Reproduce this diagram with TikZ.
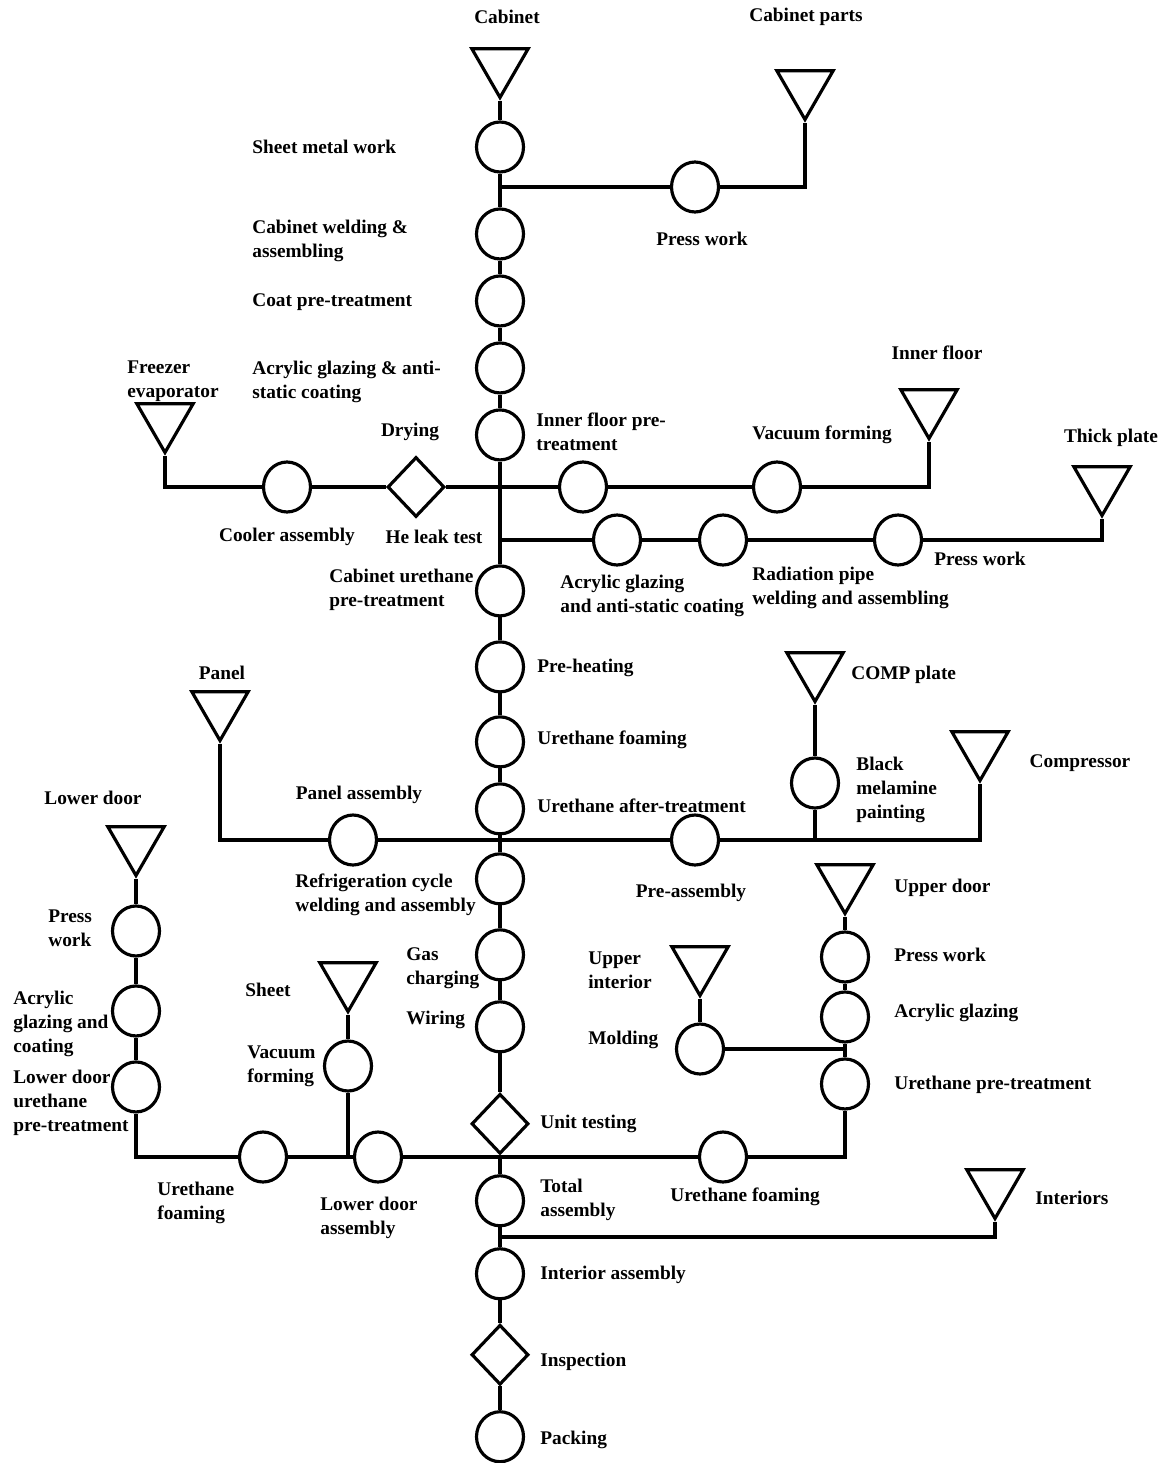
\documentclass[tikz,border=0pt]{standalone}
\usepackage{fontspec}
\setmainfont{Liberation Serif}
\usepackage{tikz}
\usetikzlibrary{positioning, shapes.geometric}
\tikzstyle{operation} = [ellipse, minimum width=0.94cm, minimum height=1cm, inner sep=0pt, draw=black, line width=1.8pt]
\tikzstyle{storage} = [regular polygon, regular polygon sides=3, shape border rotate=180, minimum size=1.3cm, inner sep=0pt, draw=black, line width=1.8pt]
\tikzstyle{check} = [diamond, minimum width=1.14cm, minimum height=1.2cm, inner sep=0pt, draw=black, line width=1.8pt]
\tikzstyle{flow} = [line width=1.8pt]
\tikzstyle{note} = [font=\fontsize{11}{13.7}\selectfont\bfseries, align=left, inner sep=0pt]

\begin{document}
\begin{tikzpicture}[x=0.02cm, y=-0.02cm, node distance=1.34cm]
        \useasboundingbox (0,0) rectangle (1166,1463);

        % main line
        \node (cabinet) [storage] at (500,65) {};
        \node (sheetmetal) [operation, below of=cabinet, yshift=-0.3cm] {};
        \node (welding) [operation, below of=sheetmetal, yshift=-0.4cm] {};
        \node (coatpre) [operation, below of=welding] {};
        \node (glazing) [operation, below of=coatpre] {};
        \node (floorpre) [operation, below of=glazing] {};
        \node (urethanepre) [operation, below of=floorpre, yshift=-1.78cm] {};
        \node (preheat) [operation, below of=urethanepre, yshift=-0.18cm] {};
        \node (foaming) [operation, below of=preheat, yshift=-0.16cm] {};
        \node (after) [operation, below of=foaming] {};
        \node (refcycle) [operation, below of=after, yshift=-0.06cm] {};
        \node (gas) [operation, below of=refcycle, yshift=-0.18cm] {};
        \node (wiring) [operation, below of=gas, yshift=-0.1cm] {};
        \node (unittest) [check, below of=wiring, yshift=-0.6cm] {};
        \node (total) [operation, below of=unittest, yshift=-0.2cm] {};
        \node (interior) [operation, below of=total, yshift=-0.12cm] {};
        \node (inspection) [check, below of=interior, yshift=-0.28cm] {};
        \node (packing) [operation, below of=inspection, yshift=-0.3cm] {};

        \coordinate (jparts) at (500,187);
        \coordinate (jfloor) at (500,487);
        \coordinate (jplate) at (500,540);
        \coordinate (jpanel) at (500,840);
        \coordinate (jdoor) at (500,1157);
        \coordinate (jinter) at (500,1237);

        % cabinet parts
        \node (cabparts) [storage] at (805,87) {};
        \node (press1) [operation] at (695,187) {};

        % freezer side
        \node (freezer) [storage] at (165,420) {};
        \node (cooler) [operation] at (287,487) {};
        \node (leak) [check] at (416,487) {};

        % inner floor and thick plate
        \node (floorform) [operation] at (583,487) {};
        \node (vacform) [operation] at (777,487) {};
        \node (innerfloor) [storage] at (929,406) {};
        \node (glazing2) [operation] at (617,540) {};
        \node (radpipe) [operation] at (723,540) {};
        \node (press3) [operation] at (898,540) {};
        \node (thickplate) [storage] at (1102,483) {};

        % panel and compressor
        \node (panel) [storage] at (220,708) {};
        \node (panelasm) [operation] at (353,840) {};
        \node (preasm) [operation] at (695,840) {};
        \coordinate (jcomp) at (815,840);
        \node (compplate) [storage] at (815,669) {};
        \node (melamine) [operation] at (815,783) {};
        \node (compressor) [storage] at (980,748) {};

        % lower door
        \node (lowerdoor) [storage] at (136,843) {};
        \node (press2) [operation, below of=lowerdoor, yshift=-0.42cm] {};
        \node (acryl3) [operation, below of=press2, yshift=-0.26cm] {};
        \node (ldpre) [operation, below of=acryl3, yshift=-0.18cm] {};
        \node (ufoam2) [operation] at (263,1157) {};
        \node (ldasm) [operation] at (378,1157) {};
        \node (sheet) [storage] at (348,979) {};
        \node (vacform2) [operation] at (348,1066) {};
        \coordinate (jsheet) at (348,1157);

        % upper door
        \node (upperdoor) [storage] at (845,881) {};
        \node (press4) [operation, below of=upperdoor, yshift=-0.18cm] {};
        \node (acryl4) [operation, below of=press4, yshift=0.14cm] {};
        \node (urepre2) [operation, below of=acryl4] {};
        \node (ufoam3) [operation] at (723,1157) {};
        \node (upperint) [storage] at (700,963) {};
        \node (molding) [operation] at (700,1049) {};
        \coordinate (jmold) at (845,1049);

        \node (interiors) [storage] at (995,1186) {};

        \draw [flow] (cabinet) -- (sheetmetal) -- (welding) -- (coatpre) -- (glazing) -- (floorpre) -- (urethanepre) -- (preheat) -- (foaming) -- (after) -- (refcycle) -- (gas) -- (wiring) -- (unittest) -- (total) -- (interior) -- (inspection) -- (packing);
        \draw [flow] (jparts) -- (press1) -| (cabparts);
        \draw [flow] (freezer) |- (cooler) -- (leak) -- (jfloor);
        \draw [flow] (jfloor) -- (floorform) -- (vacform) -| (innerfloor);
        \draw [flow] (jplate) -- (glazing2) -- (radpipe) -- (press3) -| (thickplate);
        \draw [flow] (panel) |- (panelasm) -- (jpanel);
        \draw [flow] (jpanel) -- (preasm) -- (jcomp) -| (compressor);
        \draw [flow] (compplate) -- (melamine) -- (jcomp);
        \draw [flow] (lowerdoor) -- (press2) -- (acryl3) -- (ldpre) |- (ufoam2) -- (ldasm) -- (jdoor);
        \draw [flow] (sheet) -- (vacform2) -- (jsheet);
        \draw [flow] (upperdoor) -- (press4) -- (acryl4) -- (urepre2) |- (ufoam3) -- (jdoor);
        \draw [flow] (upperint) -- (molding) -- (jmold);
        \draw [flow] (interiors) |- (jinter);

        % labels
        \node (tcabinet) [note] at (507,17) {Cabinet};
        \node (tcabparts) [note] at (806,17) {Cabinet parts};
        \node (tpress1) [note] at (702,239) {Press work};
        \node (tsheetmetal) [note, anchor=west] at (252,147) {Sheet metal work};
        \node (twelding) [note, anchor=west] at (252,241) {Cabinet welding \&\\assembling};
        \node (tcoatpre) [note, anchor=west] at (252,302) {Coat pre-treatment};
        \node (tglazing) [note, anchor=west] at (252,382) {Acrylic glazing \& anti-\\static coating};
        \node (tfreezer) [note, anchor=west] at (127,381) {Freezer\\evaporator};
        \node (tinnerfloor) [note] at (937,353) {Inner floor};
        \node (tfloorpre) [note, anchor=west] at (536,432) {Inner floor pre-\\treatment};
        \node (tdrying) [note] at (410,432) {Drying};
        \node (tvacform) [note] at (822,435) {Vacuum forming};
        \node (tthickplate) [note] at (1111,438) {Thick plate};
        \node (tcooler) [note] at (287,537) {Cooler assembly};
        \node (tleak) [note] at (434,537) {He leak test};
        \node (tpress3) [note] at (980,559) {Press work};
        \node (turethanepre) [note, anchor=west] at (329,590) {Cabinet urethane\\pre-treatment};
        \node (tglazing2) [note, anchor=west] at (560,596) {Acrylic glazing\\and anti-static coating};
        \node (tradpipe) [note, anchor=west] at (752,588) {Radiation pipe\\welding and assembling};
        \node (tpanel) [note] at (222,673) {Panel};
        \node (tpreheat) [note, anchor=west] at (537,668) {Pre-heating};
        \node (tcompplate) [note, anchor=west] at (851,675) {COMP plate};
        \node (tfoaming) [note, anchor=west] at (537,740) {Urethane foaming};
        \node (tcompressor) [note] at (1080,763) {Compressor};
        \node (tmelamine) [note, anchor=west] at (856,790) {Black\\melamine\\painting};
        \node (tpanelasm) [note] at (359,795) {Panel assembly};
        \node (tlowerdoor) [note] at (93,798) {Lower door};
        \node (tafter) [note, anchor=west] at (537,806) {Urethane after-treatment};
        \node (tupperdoor) [note, anchor=west] at (894,888) {Upper door};
        \node (tpreasm) [note] at (691,893) {Pre-assembly};
        \node (trefcycle) [note, anchor=west] at (295,895) {Refrigeration cycle\\welding and assembly};
        \node (tpress2) [note, anchor=west] at (48,928) {Press\\work};
        \node (tpress4) [note, anchor=west] at (894,955) {Press work};
        \node (tgas) [note, anchor=west] at (406,968) {Gas\\charging};
        \node (tupperint) [note, anchor=west] at (588,970) {Upper\\interior};
        \node (tsheet) [note] at (268,990) {Sheet};
        \node (tacryl4) [note, anchor=west] at (894,1013) {Acrylic glazing};
        \node (twiring) [note, anchor=west] at (406,1020) {Wiring};
        \node (tacryl3) [note, anchor=west] at (13,1024) {Acrylic\\glazing and\\coating};
        \node (tmolding) [note, anchor=west] at (588,1040) {Molding};
        \node (tvacform2) [note, anchor=west] at (247,1066) {Vacuum\\forming};
        \node (turepre2) [note, anchor=west] at (894,1085) {Urethane pre-treatment};
        \node (tldpre) [note, anchor=west] at (13,1103) {Lower door\\urethane\\pre-treatment};
        \node (tunittest) [note, anchor=west] at (540,1124) {Unit testing};
        \node (tufoam3) [note] at (745,1197) {Urethane foaming};
        \node (tinteriors) [note, anchor=west] at (1035,1198) {Interiors};
        \node (ttotal) [note, anchor=west] at (540,1200) {Total\\assembly};
        \node (tufoam2) [note, anchor=west] at (157,1203) {Urethane\\foaming};
        \node (tldasm) [note, anchor=west] at (320,1218) {Lower door\\assembly};
        \node (tinterior) [note, anchor=west] at (540,1275) {Interior assembly};
        \node (tinspection) [note, anchor=west] at (540,1362) {Inspection};
        \node (tpacking) [note, anchor=west] at (540,1440) {Packing};

\end{tikzpicture}
\end{document}
